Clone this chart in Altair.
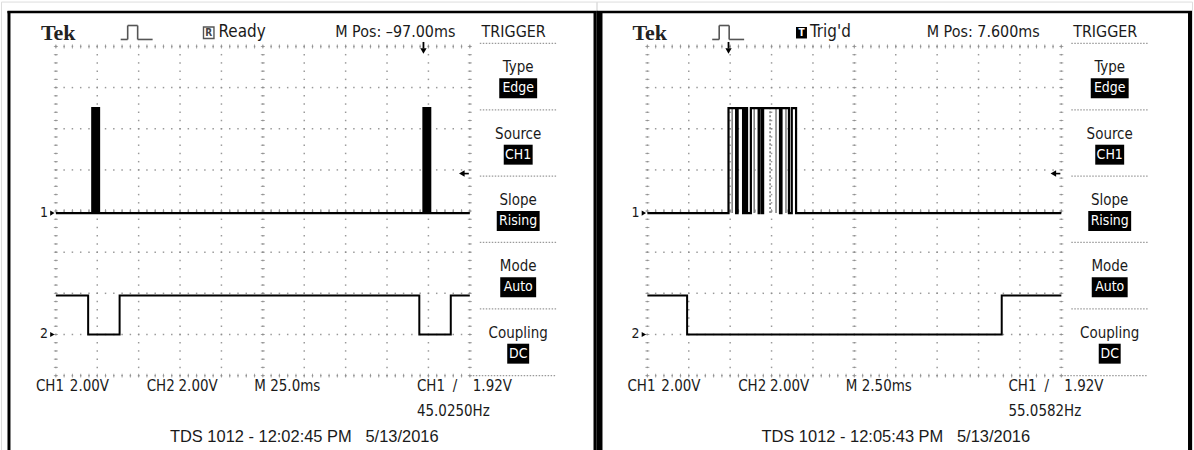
import altair as alt
import pandas as pd

# ------------------------------------------------------------------ channel settings
VOLTS_PER_DIV = 2.0
TRIGGER_LEVEL_V = 1.92
CH1_GROUND_DIV = -0.05
CH2_GROUND_DIV = -3.0

# CH1: one burst of the serial pulse train; edge times (ms from burst start)
# and the level (V) that follows each edge
BURST_EDGES_MS = [0.0, 0.46, 0.55, 0.88, 1.00, 1.12, 1.35, 1.82,
                  1.88, 2.03, 2.09, 3.11, 3.20, 3.65, 3.82, 4.08]
BURST_LEVELS_V = [5.1, 0.0, 5.1, 0.0, 5.1, 0.0, 5.1, 0.0,
                  5.1, 0.0, 5.1, 0.0, 5.1, 0.0, 5.1, 0.0]
# edges that jitter from sweep to sweep (drawn grey)
GHOST_EDGES_MS = [0.22, 1.05, 1.55, 2.87, 3.47]
GHOST_DASHED_MS = [2.51]
# burst start times relative to the trigger (ms)
BURST_START_MS = [-200.0, 0.0]

# CH2: active-low window around each burst (ms from burst start)
CH2_LOW_FROM_MS = -2.5
CH2_LOW_TO_MS = 16.5
CH2_HIGH_V = 1.9

# ------------------------------------------------------------------ the two captures
TIME_PER_DIV_MS = [25.0, 2.5]
M_POS_MS = [-97.0, 7.6]
M_POS_TEXT = ["M Pos: \u201397.00ms", "M Pos: 7.600ms"]
STATUS_TEXT = ["Ready", "Trig'd"]
STATUS_ICON = ["R", "T"]
TIMEBASE_TEXT = ["M 25.0ms", "M 2.50ms"]
FREQ_TEXT = ["45.0250Hz", "55.0582Hz"]
FOOTER_TEXT = ["TDS 1012 - 12:02:45 PM\u00a0\u00a0\u00a05/13/2016",
               "TDS 1012 - 12:05:43 PM\u00a0\u00a0\u00a05/13/2016"]
CH_SCALE_TEXT = ["2.00V", "2.00V"]
TRIG_TEXT = "1.92V"

MENU_TITLE = "TRIGGER"
MENU_LABELS = ["Type", "Source", "Slope", "Mode", "Coupling"]
MENU_VALUES = ["Edge", "CH1", "Rising", "Auto", "DC"]

# ------------------------------------------------------------------ styling
UI_FONT = "Liberation Sans Narrow, Arial Narrow, DejaVu Sans Condensed, Liberation Sans, sans-serif"
FOOT_FONT = "Liberation Sans, Arial, sans-serif"
LOGO_FONT = "Liberation Serif, Times New Roman, serif"
GRID_COLOR = "#8e8e8e"
INK = "#1a1a1a"
MENU_BOX_W = [38, 29, 43, 36, 22]

PANEL_W, PANEL_H = 597, 450
GRID_TOP, GRID_BOTTOM = 45, 375

ONE = pd.DataFrame({"k": [0]})


def txt(x, y, s, size=15, align="left", font=UI_FONT, weight="normal", color=INK):
    return alt.Chart(ONE).mark_text(
        text=s, align=align, baseline="middle", font=font, fontSize=size,
        fontWeight=weight, color=color,
    ).encode(x=alt.value(x), y=alt.value(y))


def hrule(x1, x2, y, color="black", width=1.0, dash=None):
    kw = dict(color=color, strokeWidth=width)
    if dash:
        kw["strokeDash"] = dash
    return alt.Chart(ONE).mark_rule(**kw).encode(
        x=alt.value(x1), x2=alt.value(x2), y=alt.value(y))


def vrule(x, y1, y2, color="black", width=1.0):
    return alt.Chart(ONE).mark_rule(color=color, strokeWidth=width).encode(
        x=alt.value(x), y=alt.value(y1), y2=alt.value(y2))


def box(x1, x2, y1, y2, fill, stroke=None, sw=0):
    kw = dict(color=fill)
    if stroke:
        kw.update(stroke=stroke, strokeWidth=sw)
    return alt.Chart(ONE).mark_rect(**kw).encode(
        x=alt.value(x1), x2=alt.value(x2), y=alt.value(y1), y2=alt.value(y2))


def ch1_frame(t0, t1):
    t, v = [t0], [0.0]
    for b in BURST_START_MS:
        if t0 <= b <= t1:
            for e, lv in zip(BURST_EDGES_MS, BURST_LEVELS_V):
                t.append(b + e)
                v.append(lv)
    t.append(t1)
    v.append(0.0)
    return pd.DataFrame({"t": t, "v": v})


def ch2_frame(t0, t1):
    t, v = [t0], [CH2_HIGH_V]
    for b in BURST_START_MS:
        a, c = b + CH2_LOW_FROM_MS, b + CH2_LOW_TO_MS
        if t0 < a and c < t1:
            t += [a, c]
            v += [0.0, CH2_HIGH_V]
    t.append(t1)
    v.append(CH2_HIGH_V)
    return pd.DataFrame({"t": t, "v": v})


def panel(i, off, border_l, border_lw, border_r, border_rw):
    tdiv = TIME_PER_DIV_MS[i]
    t0 = M_POS_MS[i] - 5 * tdiv
    t1 = M_POS_MS[i] + 5 * tdiv
    X = lambda r: r + off

    xs = alt.Scale(domain=[t0, t1], range=[X(48), X(463)], nice=False, zero=False)
    ys = alt.Scale(domain=[-4, 4], range=[GRID_BOTTOM, GRID_TOP], nice=False, zero=False)
    ex = lambda f: alt.X(f, type="quantitative", scale=xs, axis=None)
    ey = lambda f: alt.Y(f, type="quantitative", scale=ys, axis=None)

    layers = []

    # graticule: dotted lines at every division, one dot per minor division
    pts = []
    for k in range(11):
        for j in range(-20, 21):
            pts.append((t0 + k * tdiv, j / 5))
    for k in range(-4, 5):
        for j in range(51):
            pts.append((t0 + j * tdiv / 5, k))
    grid = pd.DataFrame(pts, columns=["t", "d"])
    layers.append(alt.Chart(grid).mark_square(size=2.2, color=GRID_COLOR, opacity=0.9)
                  .encode(x=ex("t"), y=ey("d")))

    # minor tick marks on the border and centre lines
    vt = pd.DataFrame([(t0 + k * tdiv, j / 5) for k in (0, 5, 10) for j in range(-20, 21)],
                      columns=["t", "d"])
    ht = pd.DataFrame([(t0 + j * tdiv / 5, k) for k in (-4, 0, 4) for j in range(51)],
                      columns=["t", "d"])
    layers.append(alt.Chart(vt).mark_tick(orient="horizontal", size=4, thickness=1,
                                          color=GRID_COLOR, opacity=0.8)
                  .encode(x=ex("t"), y=ey("d")))
    layers.append(alt.Chart(ht).mark_tick(orient="vertical", size=4, thickness=1,
                                          color=GRID_COLOR, opacity=0.8)
                  .encode(x=ex("t"), y=ey("d")))

    # jittering CH1 edges from other sweeps
    bursts = [b for b in BURST_START_MS if t0 <= b <= t1]
    hi_expr = f"{max(BURST_LEVELS_V)} / {VOLTS_PER_DIV} + {CH1_GROUND_DIV}"
    ghost = pd.DataFrame({"t": [b + g for b in bursts for g in GHOST_EDGES_MS]})
    ghost_d = pd.DataFrame({"t": [b + g for b in bursts for g in GHOST_DASHED_MS]})
    layers.append(alt.Chart(ghost)
                  .transform_calculate(lo=str(CH1_GROUND_DIV), hi=hi_expr)
                  .mark_rule(color="#7a7a7a", strokeWidth=1.5)
                  .encode(x=ex("t"), y=ey("lo"), y2="hi:Q"))
    layers.append(alt.Chart(ghost_d)
                  .transform_calculate(lo=str(CH1_GROUND_DIV), hi=hi_expr)
                  .mark_rule(color="#7a7a7a", strokeWidth=1.5, strokeDash=[2, 2])
                  .encode(x=ex("t"), y=ey("lo"), y2="hi:Q"))

    # traces
    layers.append(alt.Chart(ch2_frame(t0, t1))
                  .transform_calculate(d=f"datum.v / {VOLTS_PER_DIV} + {CH2_GROUND_DIV}")
                  .mark_line(interpolate="step-after", color="black", strokeWidth=2)
                  .encode(x=ex("t"), y=ey("d")))
    layers.append(alt.Chart(ch1_frame(t0, t1))
                  .transform_calculate(d=f"datum.v / {VOLTS_PER_DIV} + {CH1_GROUND_DIV}")
                  .mark_line(interpolate="step-after", color="black", strokeWidth=2.2)
                  .encode(x=ex("t"), y=ey("d")))

    # channel ground markers
    gnd = pd.DataFrame({"d": [CH1_GROUND_DIV, CH2_GROUND_DIV], "lab": ["1", "2"]})
    layers.append(alt.Chart(gnd).mark_text(font=UI_FONT, fontSize=14, align="center",
                                           baseline="middle", color=INK)
                  .encode(x=alt.value(X(36)), y=ey("d"), text="lab:N"))
    layers.append(alt.Chart(gnd).mark_point(shape="triangle-right", filled=True, size=26,
                                            color="black", opacity=1)
                  .encode(x=alt.value(X(44.5)), y=ey("d")))

    # trigger level marker (right edge of graticule)
    trig = pd.DataFrame({"d": [CH1_GROUND_DIV + TRIGGER_LEVEL_V / VOLTS_PER_DIV]})
    layers.append(alt.Chart(trig).mark_point(shape="triangle-left", filled=True, size=42,
                                             color="black", opacity=1)
                  .encode(x=alt.value(X(455)), y=ey("d")))
    layers.append(alt.Chart(trig).mark_rule(color="black", strokeWidth=1.6)
                  .encode(x=alt.value(X(456)), x2=alt.value(X(462)), y=ey("d")))

    # trigger position marker (top of graticule)
    tpos = pd.DataFrame({"t": [0.0]})
    layers.append(alt.Chart(tpos).mark_point(shape="triangle-down", filled=True, size=40,
                                             color="black", opacity=1)
                  .encode(x=ex("t"), y=alt.value(49.5)))
    layers.append(alt.Chart(tpos).mark_rule(color="black", strokeWidth=1.8)
                  .encode(x=ex("t"), y=alt.value(40.5), y2=alt.value(47)))

    # header
    layers.append(txt(X(33), 31.5, "Tek", size=22, font=LOGO_FONT, weight="bold",
                      color="#222222"))
    icon_c = "#555555"
    layers += [hrule(X(113), X(120), 38, icon_c, 1.6), vrule(X(120), 24, 38, icon_c, 1.6),
               hrule(X(120), X(130), 24, icon_c, 1.6), vrule(X(130), 24, 38, icon_c, 1.6),
               hrule(X(130), X(145), 38, icon_c, 1.6)]
    if STATUS_ICON[i] == "R":
        layers.append(box(X(196), X(206.5), 25.5, 37, "white", "#555555", 1.4))
        layers.append(txt(X(201.3), 31.5, "R", size=10, align="center", color="#444444",
                          weight="bold"))
    else:
        layers.append(box(X(197), X(208), 25.5, 37, "black"))
        layers.append(txt(X(202.5), 31.5, "T", size=10, align="center", color="white",
                          weight="bold"))
    layers.append(txt(X(211), 31, STATUS_TEXT[i], size=17))
    layers.append(txt(X(328), 31, M_POS_TEXT[i], size=16))

    # trigger menu
    mc = X(511.5)
    layers.append(txt(X(507), 31, MENU_TITLE, size=16, align="center"))
    seps = [42, 108.5, 175, 241.5, 308]
    for s in seps:
        layers.append(hrule(X(473), X(550), s, "#9a9a9a", 1.2, [1.5, 1.5]))
    layers.append(hrule(X(463), X(550), GRID_BOTTOM, "#9a9a9a", 1.2, [1.5, 1.5]))
    for s, lab, val, w in zip(seps, MENU_LABELS, MENU_VALUES, MENU_BOX_W):
        layers.append(txt(mc, s + 24, lab, size=15, align="center"))
        layers.append(box(mc - w / 2, mc + w / 2, s + 35, s + 55, "black"))
        layers.append(txt(mc, s + 45, val, size=14, align="center", color="white"))

    # footer readouts
    yb = 385
    layers += [txt(X(28), yb, "CH1"), txt(X(62), yb, CH_SCALE_TEXT[0]),
               txt(X(139), yb, "CH2"), txt(X(171), yb, CH_SCALE_TEXT[1]),
               txt(X(247), yb, TIMEBASE_TEXT[i]),
               txt(X(410), yb, "CH1"), txt(X(446), yb, "/"),
               txt(X(466), yb, TRIG_TEXT),
               txt(X(410), 410, FREQ_TEXT[i]),
               txt(X(297), 437, FOOTER_TEXT[i], size=16.5, align="center", font=FOOT_FONT)]

    # frame
    layers.append(vrule(border_l, 9.5, PANEL_H, "black", border_lw))
    layers.append(vrule(border_r, 9.5, PANEL_H, "black", border_rw))
    layers.append(hrule(border_l - border_lw / 2, border_r + border_rw / 2, 10.5, "black", 2.5))

    return alt.layer(*layers).properties(width=PANEL_W, height=PANEL_H)


left = panel(0, 7, 8, 3, 596, 4)
right = panel(1, 3, 3, 6, 595, 4)

chart = (
    alt.hconcat(left, right, spacing=0, bounds="flush", padding=0)
    .configure_view(stroke=None)
    .configure(background="white")
)

chart.save("out.html", embed_options={"renderer": "svg", "actions": False})
